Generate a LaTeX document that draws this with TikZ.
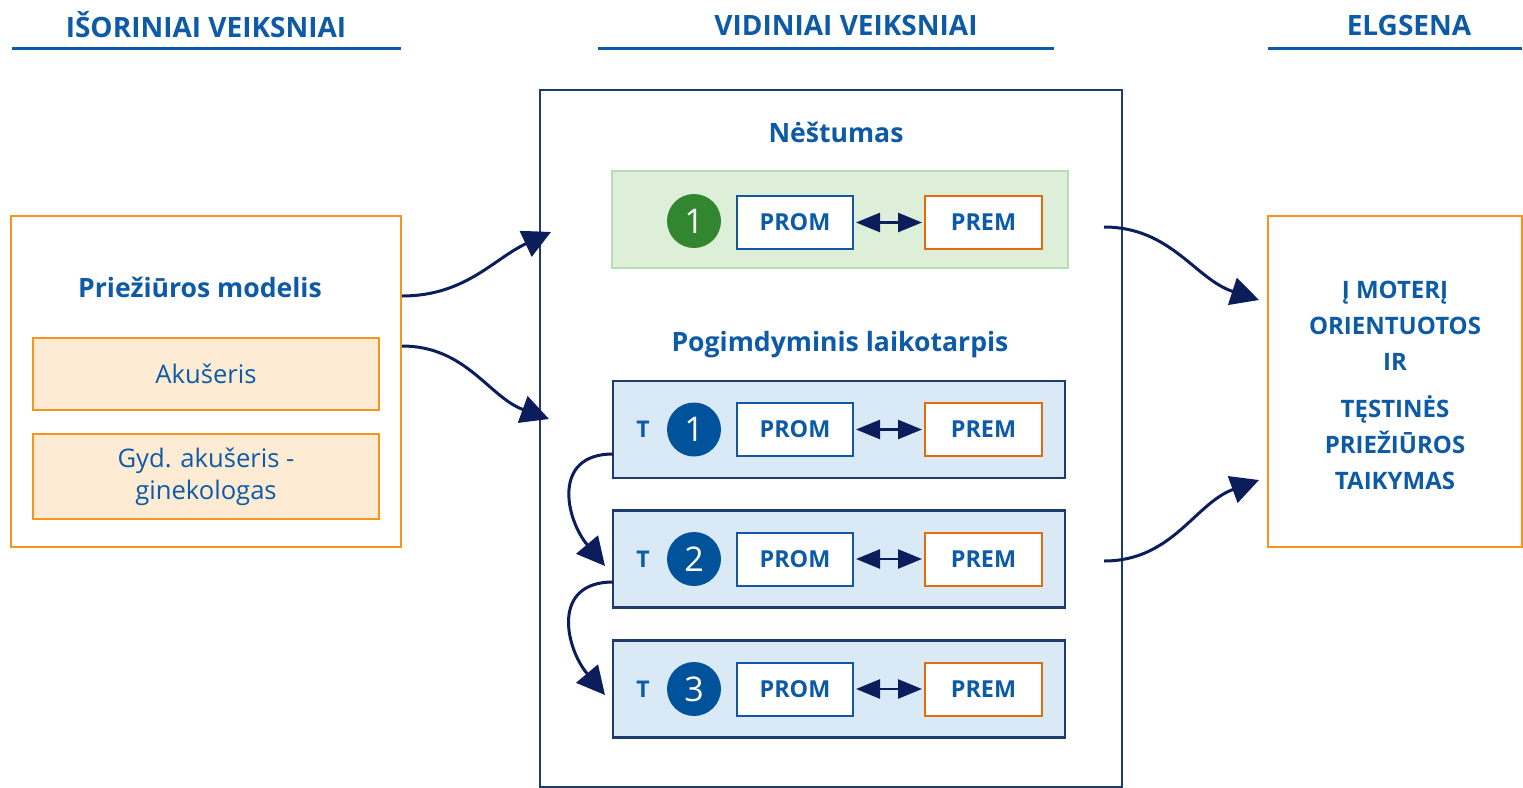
\documentclass[tikz,border=0pt]{standalone}
\usepackage{fontspec}
\setmainfont{Open Sans}
\usetikzlibrary{arrows.meta,positioning}
\definecolor{tblue}{HTML}{0D5BA6}
\definecolor{navy}{HTML}{0B1E5B}
\definecolor{boxnavy}{HTML}{1F3B6B}
\definecolor{orng}{HTML}{F7941D}
\definecolor{orfill}{HTML}{FDEBD3}
\definecolor{gfill}{HTML}{DDEFD9}
\definecolor{gline}{HTML}{B5DFB0}
\definecolor{gcirc}{HTML}{31862F}
\definecolor{bfill}{HTML}{DAE9F6}
\definecolor{bcirc}{HTML}{00539B}
\definecolor{promline}{HTML}{1457A0}
\definecolor{premline}{HTML}{E36C09}
\tikzset{
  heading/.style={font=\fontsize{14}{16}\selectfont\bfseries, text=tblue},
  hrule/.style={line width=1.5pt, draw=tblue},
  outerbox/.style={draw=orng, line width=1pt, fill=white, inner sep=0pt},
  subbox/.style={draw=orng, line width=1pt, fill=orfill, inner sep=0pt, minimum width=173pt, text=tblue, font=\fontsize{12.8}{16}\selectfont, align=center},
  titletext/.style={font=\fontsize{13.3}{15}\selectfont\bfseries, text=tblue},
  greenbox/.style={draw=gline, line width=1pt, fill=gfill, inner sep=0pt, minimum width=228pt, minimum height=48.5pt},
  tbox/.style={draw=boxnavy, line width=1.2pt, fill=bfill, inner sep=0pt, minimum width=226pt, minimum height=48.5pt},
  prombox/.style={draw=promline, line width=1pt, fill=white, inner sep=0pt, minimum width=58pt, minimum height=26.5pt, text=tblue, font=\fontsize{11.7}{13}\selectfont\bfseries},
  prembox/.style={prombox, draw=premline, minimum width=58.5pt},
  numcirc/.style={circle, fill=bcirc, inner sep=0pt, minimum size=27pt, text=white, font=\fontsize{17}{18}\selectfont},
  tlabel/.style={text=tblue, font=\fontsize{11.5}{13}\selectfont\bfseries},
  conn/.style={draw=navy, line width=1.5pt, -{Triangle[length=14pt,width=14pt]}},
  dbl/.style={draw=navy, line width=1.3pt, {Triangle[length=12pt,width=9.5pt]}-{Triangle[length=12pt,width=9.5pt]}, shorten <=1pt, shorten >=1pt},
}
\begin{document}
\begin{tikzpicture}[x=0.5pt,y=-0.5pt]
\useasboundingbox (0,0) rectangle (1523,788);
% headings
\node[heading] (h1) at (206,25) {IŠORINIAI VEIKSNIAI};
\node[heading] (h2) at (846,25) {VIDINIAI VEIKSNIAI};
\node[heading] (h3) at (1409,25) {ELGSENA};
\draw[hrule] (12,48) -- (401,48);
\draw[hrule] (598,48) -- (1054,48);
\draw[hrule] (1268,48) -- (1522,48);
% left
\node[outerbox, minimum width=195pt, minimum height=165.5pt] (left) at (206,381.5) {};
\node[titletext] (pm) at (200,287) {Priežiūros modelis};
\node[subbox, minimum height=36pt] (ak) at (206,374) {Akušeris};
\node[subbox, minimum height=42.5pt] (gyd) at (206,476.5) {\raisebox{-1.5pt}{\parbox{170pt}{\centering Gyd. akušeris -\\ginekologas}}};
% middle
\node[draw=boxnavy, line width=1.2pt, fill=white, inner sep=0pt, minimum width=291pt, minimum height=348.5pt] (mid) at (831,438.5) {};
\node[titletext] (nes) at (836,132) {Nėštumas};
\node[greenbox] (g) at (840,219.5) {};
\node[numcirc, fill=gcirc] (gc) at (694,221) {1};
\node[prombox] (gp1) at (795,222.5) {PROM};
\node[prembox] (gp2) at (983.5,222.5) {PREM};
\draw[dbl] (gp1) -- (gp2);
\node[titletext] (pog) at (840,345) {Pogimdyminis laikotarpis};
\foreach \i/\y in {1/429.5,2/559,3/689}{
  \node[tbox] (t\i) at (839,\y) {};
  \node[tlabel] (tl\i) at (643,\y) {T};
  \node[numcirc] (c\i) at (694,\y) {\i};
  \node[prombox] (p\i) at (795,\y) {PROM};
  \node[prembox] (q\i) at (983.5,\y) {PREM};
  \draw[dbl] (p\i) -- (q\i);
}
% right
\node[outerbox, minimum width=127pt, minimum height=165.5pt] (right) at (1395,381.5) {};
\node[text=tblue, font=\fontsize{12}{18}\selectfont\bfseries, align=center] (rt1) at (1395,326) {Į MOTERĮ\\ORIENTUOTOS\\IR};
\node[text=tblue, font=\fontsize{12}{18}\selectfont\bfseries, align=center] (rt2) at (1395,443) {TĘSTINĖS\\PRIEŽIŪROS\\TAIKYMAS};
% connector coordinates
\coordinate (a1s) at (402,296);
\coordinate (a1e) at (551,232);
\coordinate (a2s) at (402,346);
\coordinate (a2e) at (549,419);
\coordinate (a3s) at (1104,227);
\coordinate (a3e) at (1259,300);
\coordinate (a4s) at (1104,561);
\coordinate (a4e) at (1259,480);
\coordinate (l1s) at (613,454);
\coordinate (l1e) at (605,566);
\coordinate (l2s) at (613,582);
\coordinate (l2e) at (605,695);
\draw[conn] (a1s) to[out=0,in=205] (a1e);
\draw[conn] (a2s) to[out=0,in=160] (a2e);
\draw[conn] (a3s) to[out=0,in=162] (a3e);
\draw[conn] (a4s) to[out=0,in=200] (a4e);
\draw[conn] (l1s) to[out=180,in=130,looseness=1.4] (l1e);
\draw[conn] (l2s) to[out=180,in=130,looseness=1.4] (l2e);
\end{tikzpicture}
\end{document}
